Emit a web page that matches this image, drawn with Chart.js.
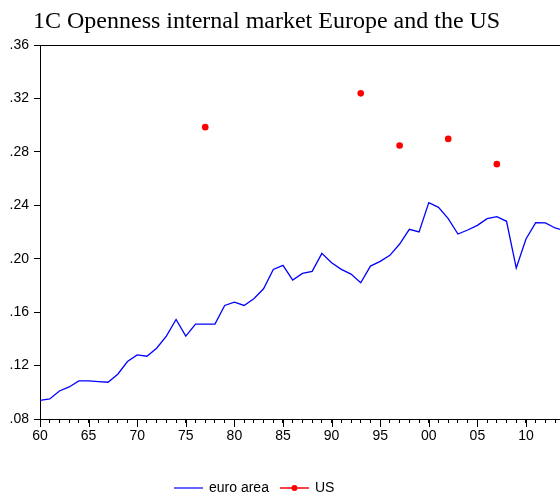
<!DOCTYPE html>
<html>
<head>
<meta charset="utf-8">
<script src="https://cdn.jsdelivr.net/npm/chart.js@4"></script>
<style>
    body { margin: 0; background: #ffffff; }
    #wrap { width: 560px; height: 499px; overflow: hidden; }
</style>
</head>
<body>
<div id="wrap"><canvas id="opennessChart" width="564" height="499"></canvas></div>
<script>
const chartTitle = "1C Openness internal market Europe and the US";

// euro area, yearly from 1960
const euroYears = [
    1960, 1961, 1962, 1963, 1964, 1965, 1966, 1967, 1968, 1969,
    1970, 1971, 1972, 1973, 1974, 1975, 1976, 1977, 1978, 1979,
    1980, 1981, 1982, 1983, 1984, 1985, 1986, 1987, 1988, 1989,
    1990, 1991, 1992, 1993, 1994, 1995, 1996, 1997, 1998, 1999,
    2000, 2001, 2002, 2003, 2004, 2005, 2006, 2007, 2008, 2009,
    2010, 2011, 2012, 2013, 2014
];
const euroValues = [
    0.094, 0.095, 0.101, 0.104, 0.1085, 0.1085, 0.108, 0.1075, 0.1135, 0.123,
    0.128, 0.127, 0.133, 0.142, 0.1545, 0.142, 0.151, 0.151, 0.151, 0.165,
    0.1675, 0.165, 0.170, 0.1775, 0.192, 0.195, 0.184, 0.189, 0.1905, 0.204,
    0.197, 0.192, 0.1885, 0.182, 0.1945, 0.198, 0.2025, 0.211, 0.222, 0.220,
    0.242, 0.2385, 0.230, 0.2185, 0.2215, 0.225, 0.230, 0.2315, 0.228, 0.193,
    0.2148, 0.227, 0.2268, 0.223, 0.221
];

// US, only a few years
const usYears = [1977, 1993, 1997, 2002, 2007];
const usValues = [0.2985, 0.3238, 0.2848, 0.2897, 0.2708];

const yTicks = [0.08, 0.12, 0.16, 0.20, 0.24, 0.28, 0.32, 0.36];

const legendItems = [
    { label: "euro area", color: "#0000ff", dot: false },
    { label: "US", color: "#ff0000", dot: true }
];

// title, legend, top frame line and the longer 5-year ticks
const decorPlugin = {
    id: "decor",
    afterDraw(chart) {
        const ctx = chart.ctx;
        const area = chart.chartArea;
        const xScale = chart.scales.x;
        ctx.save();

        ctx.strokeStyle = "#000000";
        ctx.lineWidth = 1;
        ctx.beginPath();
        ctx.moveTo(area.left, area.top + 0.5);
        ctx.lineTo(area.right, area.top + 0.5);
        ctx.stroke();

        xScale.ticks.forEach(t => {
            if (t.value % 5 !== 0) return;
            const px = Math.round(xScale.getPixelForValue(t.value)) + 0.5;
            ctx.beginPath();
            ctx.moveTo(px, area.bottom);
            ctx.lineTo(px, area.bottom + 8);
            ctx.stroke();
        });

        ctx.fillStyle = "#000000";
        ctx.font = '24px "Liberation Serif", "Times New Roman", serif';
        ctx.textBaseline = "alphabetic";
        ctx.textAlign = "left";
        ctx.fillText(chartTitle, 33, 28);

        ctx.font = '14px "Liberation Sans", Arial, sans-serif';
        ctx.textBaseline = "middle";
        let x = 174;
        const y = 488;
        legendItems.forEach(item => {
            ctx.strokeStyle = item.color;
            ctx.lineWidth = item.dot ? 1.5 : 1.2;
            ctx.beginPath();
            ctx.moveTo(x, y);
            ctx.lineTo(x + 29, y);
            ctx.stroke();
            if (item.dot) {
                ctx.fillStyle = item.color;
                ctx.beginPath();
                ctx.arc(x + 14.5, y, 3, 0, Math.PI * 2);
                ctx.fill();
            }
            ctx.fillStyle = "#000000";
            ctx.fillText(item.label, x + 35, y);
            x += 35 + ctx.measureText(item.label).width + 11;
        });
        ctx.restore();
    }
};

const ctx = document.getElementById("opennessChart").getContext("2d");

new Chart(ctx, {
    type: "line",
    data: {
        datasets: [
            {
                label: "euro area",
                data: euroYears.map((yr, i) => ({ x: yr, y: euroValues[i] })),
                borderColor: "#0000ff",
                borderWidth: 1.3,
                pointRadius: 0,
                tension: 0,
                fill: false
            },
            {
                label: "US",
                data: usYears.map((yr, i) => ({ x: yr, y: usValues[i] })),
                borderColor: "#ff0000",
                backgroundColor: "#ff0000",
                showLine: false,
                pointRadius: 3.3,
                pointBorderWidth: 0
            }
        ]
    },
    options: {
        responsive: false,
        animation: false,
        layout: {
            padding: { top: 45, left: 0, right: 0, bottom: 0 }
        },
        scales: {
            x: {
                type: "linear",
                min: 1960,
                max: 2013.5,
                afterFit: scale => { scale.height = 80; },
                border: { display: true, color: "#000000", width: 1 },
                grid: {
                    drawOnChartArea: false,
                    drawTicks: true,
                    tickLength: 4,
                    color: "#000000"
                },
                ticks: {
                    stepSize: 1,
                    autoSkip: false,
                    includeBounds: false,
                    maxRotation: 0,
                    padding: 5,
                    color: "#000000",
                    font: { family: '"Liberation Sans", Arial, sans-serif', size: 14 },
                    callback: function(value) {
                        if (value % 5 !== 0) return "";
                        return String(value % 100).padStart(2, "0");
                    }
                }
            },
            y: {
                min: 0.08,
                max: 0.36,
                afterFit: scale => { scale.width = 40; },
                afterBuildTicks: scale => {
                    scale.ticks = yTicks.map(v => ({ value: v }));
                },
                border: { display: true, color: "#000000", width: 1 },
                grid: {
                    drawOnChartArea: false,
                    drawTicks: true,
                    tickLength: 6,
                    color: "#000000"
                },
                ticks: {
                    padding: 5,
                    color: "#000000",
                    font: { family: '"Liberation Sans", Arial, sans-serif', size: 14 },
                    callback: function(value) {
                        return value.toFixed(2).slice(1);
                    }
                }
            }
        },
        plugins: {
            legend: { display: false },
            title: { display: false },
            tooltip: { enabled: false }
        }
    },
    plugins: [decorPlugin]
});
</script>
</body>
</html>
